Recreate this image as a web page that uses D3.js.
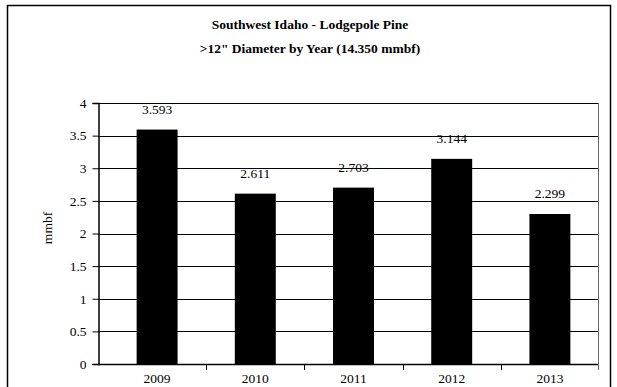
<!DOCTYPE html>
<html><head><meta charset="utf-8">
<script src="https://cdn.jsdelivr.net/npm/d3@7"></script>
<style>body{margin:0;background:#fff}svg{display:block}text{font-family:"Liberation Serif","Times New Roman",serif;fill:#000}</style>
</head><body>
<script>
const years = ["2009","2010","2011","2012","2013"];
const values = [3.593, 2.611, 2.703, 3.144, 2.299];
const valueLabels = ["3.593","2.611","2.703","3.144","2.299"];
const yTicks = [0,0.5,1,1.5,2,2.5,3,3.5,4];
const titleLines = ["Southwest Idaho - Lodgepole Pine", ">12\" Diameter by Year (14.350 mmbf)"];
const yLabel = "mmbf";

const W=617,H=387;
const svg=d3.select("body").append("svg").attr("width",W).attr("height",H);
svg.append("rect").attr("x",7.5).attr("y",5.5).attr("width",603).attr("height",390)
  .attr("fill","#fff").attr("stroke","#000").attr("stroke-width",1.5);

const m={l:98,r:598,t:103,b:364};
const x=d3.scaleBand().domain(years).range([108,599]).paddingInner(0.583).paddingOuter(0.2915);
const y=d3.scaleLinear().domain([0,4]).range([m.b,m.t]);

// gridlines
svg.append("g").selectAll("line").data(yTicks.filter(d=>d>0)).join("line")
  .attr("x1",m.l).attr("x2",m.r).attr("y1",d=>Math.round(y(d))+0.5).attr("y2",d=>Math.round(y(d))+0.5)
  .attr("stroke","#000").attr("stroke-width",1);
// right border of plot
svg.append("line").attr("x1",m.r+0.5).attr("x2",m.r+0.5).attr("y1",m.t).attr("y2",m.b+6)
  .attr("stroke","#666").attr("stroke-width",1);

// bars
svg.append("g").selectAll("rect").data(values).join("rect")
  .attr("x",(d,i)=>x(years[i])).attr("width",x.bandwidth())
  .attr("y",d=>y(d)).attr("height",d=>y(0)-y(d)).attr("fill","#000");

// value labels
svg.append("g").selectAll("text").data(values).join("text")
  .attr("x",(d,i)=>x(years[i])+x.bandwidth()/2).attr("y",d=>y(d)-16)
  .attr("text-anchor","middle").attr("font-size",13.5).text((d,i)=>valueLabels[i]);

// y axis
const ya=svg.append("g").attr("transform",`translate(${m.l+0.5},0)`)
  .call(d3.axisLeft(y).tickValues(yTicks).tickFormat(d3.format("")).tickSize(6).tickPadding(6));
ya.selectAll("path").attr("stroke","#000").attr("stroke-width",1.5);
ya.selectAll("line").attr("stroke","#000");
ya.selectAll("text").attr("font-size",13.5).style("font-family","Liberation Serif");

// x axis
const xa=svg.append("g").attr("transform",`translate(0,${m.b+0.5})`)
  .call(d3.axisBottom(x).tickSize(0).tickPadding(9));
xa.select("path").attr("d",`M${m.l},0H${m.r}`).attr("stroke","#000").attr("stroke-width",1.5);
xa.selectAll("text").attr("font-size",13.5).style("font-family","Liberation Serif");
// tick marks at category boundaries
const bounds=years.slice(1).map((d,i)=>(x(years[i])+x.bandwidth()+x(d))/2);
svg.append("g").selectAll("line").data(bounds).join("line")
  .attr("x1",d=>Math.round(d)+0.5).attr("x2",d=>Math.round(d)+0.5).attr("y1",m.b).attr("y2",m.b+6)
  .attr("stroke","#000");

// title
svg.append("g").selectAll("text").data(titleLines).join("text")
  .attr("x",310).attr("y",(d,i)=>29+i*24).attr("text-anchor","middle")
  .attr("font-size",13.5).attr("font-weight","bold").text(d=>d);

// y label
svg.append("text").attr("transform",`translate(52,228) rotate(-90)`)
  .attr("text-anchor","middle").attr("font-size",13.5).text(yLabel);
</script>
</body></html>
